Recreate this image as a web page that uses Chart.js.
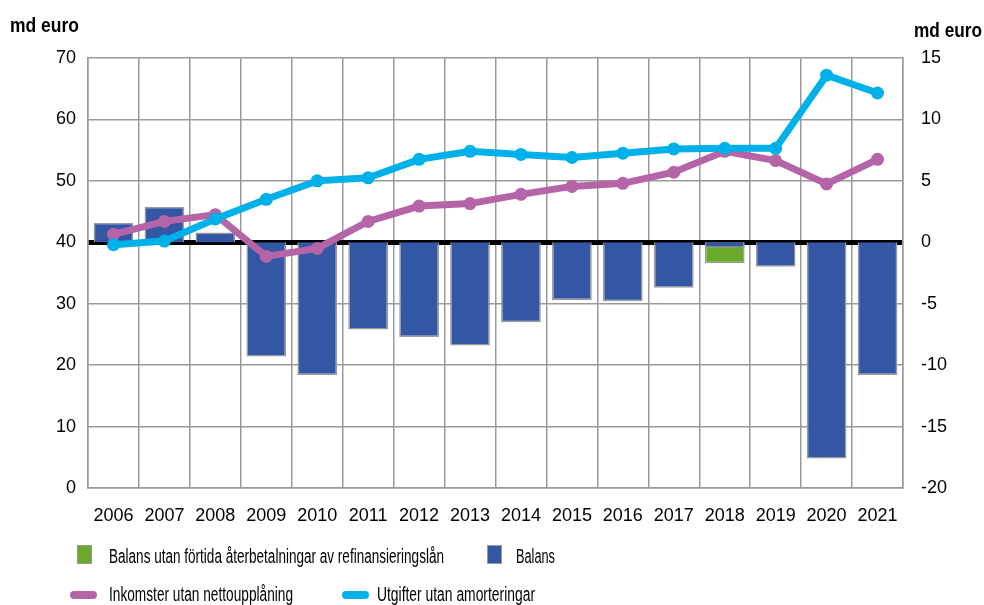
<!DOCTYPE html>
<html><head><meta charset="utf-8">
<script src="https://cdn.jsdelivr.net/npm/chart.js@4.4.1/dist/chart.umd.min.js"></script>
<style>
body{margin:0;background:#fff;}
#wrap{position:relative;width:984px;height:605px;font-family:"Liberation Sans Narrow","Liberation Sans",Arial,sans-serif;color:#000;}
#wrap canvas{position:absolute;left:0;top:0;}
.unit{position:absolute;font-weight:bold;font-size:20px;white-space:nowrap;transform-origin:left center;line-height:20px;}
.leg{position:absolute;font-size:20px;white-space:nowrap;transform-origin:left center;line-height:20px;}
.sq{position:absolute;width:13px;height:17px;border:1px solid #999;}
.ln{position:absolute;height:8px;border-radius:4px;}
</style></head>
<body>
<div id="wrap">
<canvas id="c" width="984" height="605"></canvas>
<div class="unit" data-w="69" style="left:10px;top:15px;">md euro</div>
<div class="unit" data-w="68" style="left:914px;top:20px;">md euro</div>
<div class="sq" style="left:77px;top:545px;background:#6aaa2a;"></div>
<div class="leg" data-w="335" style="left:109px;top:546px;">Balans utan förtida återbetalningar av refinansieringslån</div>
<div class="sq" style="left:487px;top:545px;background:#3457a5;"></div>
<div class="leg" data-w="39" style="left:516px;top:546px;">Balans</div>
<div class="ln" style="left:70px;top:591px;width:27px;background:#b565a7;"></div>
<div class="leg" data-w="184" style="left:109px;top:584px;">Inkomster utan nettoupplåning</div>
<div class="ln" style="left:342px;top:591px;width:27px;background:#00b0e8;"></div>
<div class="leg" data-w="158" style="left:377px;top:584px;">Utgifter utan amorteringar</div>
</div>
<script>
const years = ["2006","2007","2008","2009","2010","2011","2012","2013","2014","2015","2016","2017","2018","2019","2020","2021"];
const balans = [1.6, 2.9, 0.8, -9.3, -10.8, -7.1, -7.7, -8.4, -6.5, -4.7, -4.8, -3.7, -0.45, -2.0, -17.6, -10.8];
const balansUtanFortida = [null, null, null, null, null, null, null, null, null, null, null, null, -1.7, null, null, null];
const inkomster = [41.3, 43.4, 44.5, 37.7, 39.0, 43.4, 45.9, 46.3, 47.8, 49.1, 49.6, 51.4, 54.8, 53.3, 49.5, 53.5];
const utgifter = [39.6, 40.2, 43.8, 47.0, 50.0, 50.5, 53.5, 54.8, 54.3, 53.8, 54.5, 55.2, 55.3, 55.3, 67.2, 64.3];
const leftTicks = {min: 0, max: 70, step: 10};
const rightTicks = {min: -20, max: 15, step: 5};

document.querySelectorAll('[data-w]').forEach(el => {
  const w = el.getBoundingClientRect().width;
  el.style.transform = 'scaleX(' + (parseFloat(el.dataset.w) / w) + ')';
});

const tickFont = {family: "'Liberation Sans', Arial, sans-serif", size: 18};
new Chart(document.getElementById('c'), {
  type: 'bar',
  data: {
    labels: years,
    datasets: [
      {type:'line', label:'Utgifter utan amorteringar', data: utgifter, yAxisID:'y', borderColor:'#00b0e8', backgroundColor:'#00b0e8', borderWidth:7, pointRadius:6.5, pointBorderWidth:0, tension:0, order:0},
      {type:'line', label:'Inkomster utan nettoupplåning', data: inkomster, yAxisID:'y', borderColor:'#b565a7', backgroundColor:'#b565a7', borderWidth:7, pointRadius:6.5, pointBorderWidth:0, tension:0, order:1},
      {label:'Balans', data: balans, yAxisID:'y1', backgroundColor:'#3457a5', borderColor:'#9a9a9a', borderWidth:1.5, grouped:false, categoryPercentage:1, barPercentage:0.78, order:2},
      {label:'Balans utan förtida återbetalningar av refinansieringslån', data: balansUtanFortida, yAxisID:'y1', backgroundColor:'#6aaa2a', borderColor:'#9a9a9a', borderWidth:1.5, grouped:false, categoryPercentage:1, barPercentage:0.78, order:3}
    ]
  },
  options: {
    responsive:false, animation:false,
    layout:{padding:{top:58, left:0, right:0, bottom:0}},
    plugins:{legend:{display:false}, tooltip:{enabled:false}},
    scales:{
      x:{
        offset:true,
        grid:{offset:true, color:'#9a9a9a', lineWidth:1.5, drawTicks:false},
        border:{display:true, color:'#9a9a9a', width:1.5},
        ticks:{font:tickFont, color:'#000', padding:17, maxRotation:0, autoSkip:false},
        afterFit(s){ s.height = 117; }
      },
      y:{
        position:'left', min:leftTicks.min, max:leftTicks.max,
        ticks:{stepSize:leftTicks.step, font:tickFont, color:'#000', padding:12},
        grid:{drawTicks:false, color:c=>c.tick && c.tick.value===40 ? '#000' : '#9a9a9a', lineWidth:c=>c.tick && c.tick.value===40 ? 5 : 1.5},
        border:{display:true, color:'#9a9a9a', width:1.5},
        afterFit(s){ s.width = 88; }
      },
      y1:{
        position:'right', min:rightTicks.min, max:rightTicks.max,
        ticks:{stepSize:rightTicks.step, font:tickFont, color:'#000', padding:10},
        grid:{display:false, drawOnChartArea:false},
        border:{display:true, color:'#9a9a9a', width:1.5},
        afterFit(s){ s.width = 81; }
      }
    }
  }
});
</script>
</body></html>
